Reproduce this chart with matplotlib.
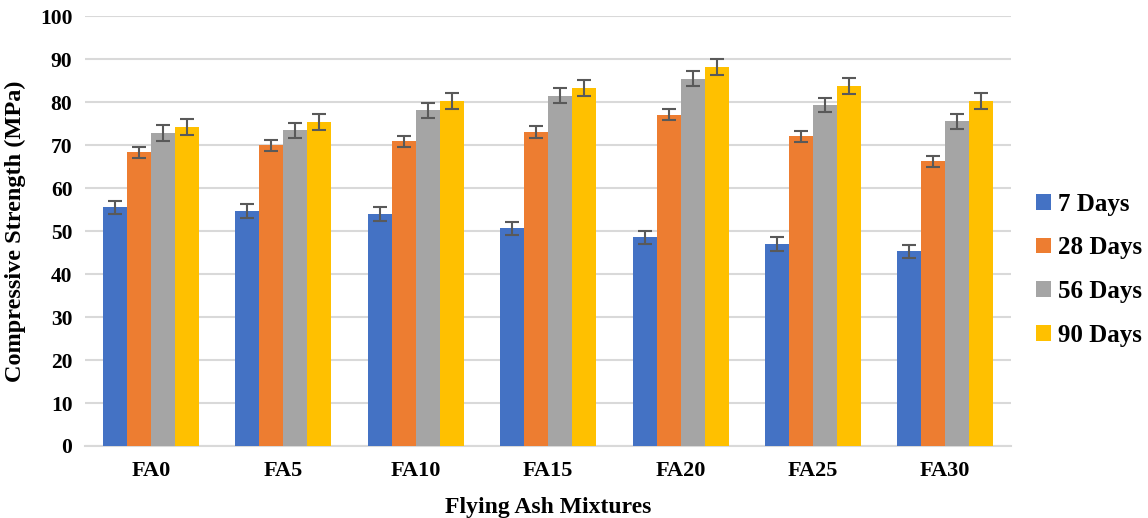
import matplotlib.pyplot as plt
import numpy as np

plt.rcParams['font.family'] = ['Liberation Serif', 'DejaVu Serif']
plt.rcParams['font.weight'] = 'bold'

mixes = ['FA0', 'FA5', 'FA10', 'FA15', 'FA20', 'FA25', 'FA30']
series = ['7 Days', '28 Days', '56 Days', '90 Days']

days7 = [55.5, 54.7, 54.0, 50.6, 48.5, 46.9, 45.3]
days28 = [68.3, 69.9, 70.9, 73.0, 77.1, 72.0, 66.2]
days56 = [72.8, 73.4, 78.1, 81.5, 85.4, 79.3, 75.5]
days90 = [74.3, 75.3, 80.2, 83.3, 88.1, 83.7, 80.2]

err7 = [1.6, 1.6, 1.6, 1.55, 1.6, 1.6, 1.5]
err28 = [1.3, 1.3, 1.3, 1.35, 1.3, 1.35, 1.3]
err56 = [1.75, 1.75, 1.75, 1.75, 1.75, 1.7, 1.7]
err90 = [1.85, 1.85, 1.9, 1.8, 1.8, 1.85, 1.85]

colors = ['#4472C4', '#ED7D31', '#A5A5A5', '#FFC000']

fig = plt.figure(figsize=(11.48, 5.18), dpi=100)
ax = fig.add_axes([0.074, 0.139, 0.807, 0.830])

x = np.arange(len(mixes))
w = 0.1814
vals = [days7, days28, days56, days90]
errs = [err7, err28, err56, err90]
for i, (v, e) in enumerate(zip(vals, errs)):
    ax.bar(x + (i - 1.5) * w, v, w, color=colors[i], label=series[i],
           yerr=e, ecolor='#595959', capsize=4.8,
           error_kw={'elinewidth': 1.5, 'capthick': 1.5}, zorder=3)

ax.set_xlim(-0.5, len(mixes) - 0.5)
ax.set_ylim(0, 100)
ax.set_yticks(np.arange(0, 101, 10))
ax.set_xticks(x)
ax.set_xticklabels(mixes, fontsize=16, fontweight='bold')
ax.tick_params(axis='y', labelsize=15.5, length=0, pad=9)
ax.tick_params(axis='x', length=0, pad=11)
ax.yaxis.grid(True, color='#D9D9D9', linewidth=1.5, zorder=0)
ax.set_axisbelow(True)
for s in ['top', 'right', 'left']:
    ax.spines[s].set_visible(False)
ax.spines['bottom'].set_color('#D9D9D9')
ax.spines['bottom'].set_linewidth(1.5)

ax.set_ylabel('Compressive Strength (MPa)', fontsize=17.5, fontweight='bold', labelpad=10)
ax.set_xlabel('Flying Ash Mixtures', fontsize=17, fontweight='bold', labelpad=11)

ax.legend(loc='center left', bbox_to_anchor=(1.002, 0.41), frameon=False,
          prop={'size': 18, 'weight': 'bold'}, handlelength=0.6, handleheight=0.6,
          handletextpad=0.3, labelspacing=0.83)

fig.savefig('out.png', dpi=100)
